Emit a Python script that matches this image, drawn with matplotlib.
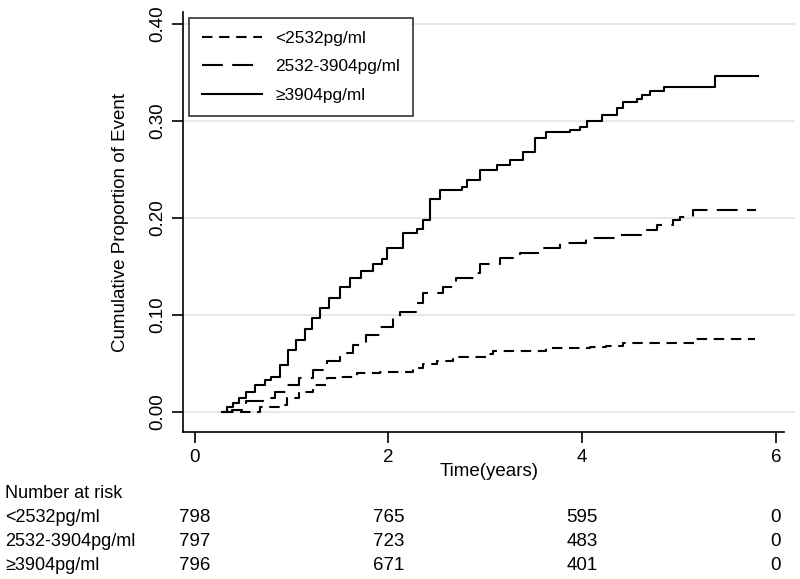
import matplotlib
matplotlib.use('Agg')
import matplotlib.pyplot as plt
import matplotlib.transforms as mtransforms

plt.rcParams['font.family'] = ['Liberation Sans', 'DejaVu Sans']

# Cumulative event curves
t_low = [0.29, 0.46, 0.67, 0.88, 0.95, 1.08, 1.22, 1.36, 1.50, 1.67, 1.91, 2.25, 2.36,
         2.50, 2.67, 3.01, 3.08, 3.63, 4.08, 4.25, 4.42, 5.15, 5.78]
y_low = [0.0, 0.0, 0.005, 0.007, 0.014, 0.021, 0.028, 0.035, 0.036, 0.040, 0.041, 0.045,
         0.049, 0.053, 0.057, 0.060, 0.063, 0.066, 0.067, 0.068, 0.071, 0.075, 0.075]

t_mid = [0.30, 0.38, 0.53, 0.70, 0.83, 0.95, 1.08, 1.22, 1.36, 1.50, 1.63, 1.77, 1.91,
         2.05, 2.12, 2.29, 2.36, 2.56, 2.70, 2.91, 2.94, 3.15, 3.36, 3.56, 3.77, 4.04,
         4.39, 4.63, 4.77, 4.94, 5.01, 5.14, 5.80]
y_mid = [0.0, 0.002, 0.011, 0.014, 0.021, 0.028, 0.035, 0.043, 0.052, 0.061, 0.069,
         0.079, 0.088, 0.098, 0.103, 0.112, 0.123, 0.129, 0.138, 0.143, 0.152, 0.159,
         0.164, 0.169, 0.174, 0.179, 0.182, 0.188, 0.193, 0.198, 0.201, 0.208, 0.208]

t_high = [0.276, 0.33, 0.39, 0.46, 0.53, 0.62, 0.72, 0.79, 0.88, 0.96, 1.05, 1.14, 1.21,
          1.29, 1.39, 1.50, 1.60, 1.72, 1.84, 1.93, 1.98, 2.15, 2.29, 2.36, 2.43, 2.53,
          2.76, 2.81, 2.94, 3.12, 3.25, 3.39, 3.51, 3.63, 3.87, 3.98, 4.05, 4.21, 4.36,
          4.42, 4.57, 4.62, 4.70, 4.84, 5.37, 5.82]
y_high = [0.0, 0.005, 0.009, 0.014, 0.021, 0.028, 0.033, 0.036, 0.048, 0.064, 0.074,
          0.085, 0.097, 0.107, 0.117, 0.129, 0.138, 0.145, 0.152, 0.158, 0.169, 0.184,
          0.189, 0.198, 0.219, 0.229, 0.232, 0.239, 0.249, 0.255, 0.260, 0.268, 0.282,
          0.289, 0.291, 0.294, 0.300, 0.306, 0.313, 0.319, 0.322, 0.327, 0.331, 0.335,
          0.346, 0.346]

labels = ['<2532pg/ml', '2532-3904pg/ml', '\u22653904pg/ml']
risk_times = [0, 2, 4, 6]
risk_low = [798, 765, 595, 0]
risk_mid = [797, 723, 483, 0]
risk_high = [796, 671, 401, 0]

fig = plt.figure(figsize=(8, 5.79), dpi=100)
ax = fig.add_axes([0.229, 0.254, 0.765, 0.725])

ax.plot(t_low, y_low, drawstyle='steps-post', color='black', lw=1.5,
        dashes=(5, 3.2), label=labels[0])
ax.plot(t_mid, y_mid, drawstyle='steps-post', color='black', lw=1.5,
        dashes=(10, 4.5), label=labels[1])
ax.plot(t_high, y_high, drawstyle='steps-post', color='black', lw=1.5,
        label=labels[2])

ax.set_xlim(-0.12, 6.2)
ax.set_ylim(-0.0206, 0.412)
ax.set_xticks([0, 2, 4, 6])
ax.set_yticks([0.0, 0.1, 0.2, 0.3, 0.4])
ax.set_yticklabels(['0.00', '0.10', '0.20', '0.30', '0.40'], rotation=90, va='center')
ax.tick_params(labelsize=13.5, length=8, width=1.2, pad=4)
ax.yaxis.grid(True, color='#e4e4e4', lw=1.2)
ax.set_axisbelow(True)
for s in ['top', 'right']:
    ax.spines[s].set_visible(False)
ax.spines['bottom'].set_bounds(-0.12, 6.08)
ax.spines['left'].set_linewidth(1.2)
ax.spines['bottom'].set_linewidth(1.2)

ax.set_xlabel('Time(years)', fontsize=13.5, labelpad=-2)
ax.set_ylabel('Cumulative Proportion of Event', fontsize=13.5, labelpad=15)

leg = ax.legend(loc='upper left', bbox_to_anchor=(0.0098, 0.986), fontsize=12.4,
                frameon=True, fancybox=False, edgecolor='black', handlelength=3.45,
                borderpad=0.75, labelspacing=0.78, handletextpad=0.8, borderaxespad=0)
leg.get_frame().set_linewidth(1.2)

# number at risk table
trans = mtransforms.blended_transform_factory(ax.transData, fig.transFigure)
fig.text(5 / 800, 1 - 493 / 579, 'Number at risk', fontsize=13, va='center')
rows_y = [518, 541, 565]
for lab, counts, yy in zip(labels, [risk_low, risk_mid, risk_high], rows_y):
    fig.text(5 / 800, 1 - yy / 579, lab, fontsize=13, va='center')
    for tt, n in zip(risk_times, counts):
        ax.text(tt, 1 - yy / 579, str(n), transform=trans, fontsize=13.5,
                ha='center', va='center', clip_on=False)

fig.savefig('out.png', dpi=100)
